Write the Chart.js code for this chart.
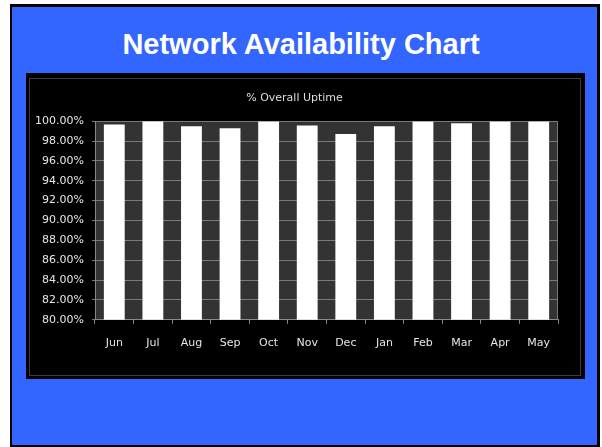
<!DOCTYPE html>
<html>
<head>
<meta charset="utf-8">
<script src="https://cdn.jsdelivr.net/npm/chart.js@4/dist/chart.umd.min.js"></script>
<style>
  html, body { margin:0; padding:0; background:#ffffff; width:602px; height:447px; overflow:hidden; }
  #frame { position:absolute; left:10px; top:4px; width:585px; height:438px; border:3px solid #000; border-left-width:2px; border-bottom-width:2px; background:#3366ff; }
  #title { position:absolute; left:0; top:28px; width:602px; text-align:center; color:#fff; font-family:"Liberation Sans", Arial, sans-serif; font-weight:bold; font-size:29px; line-height:32px; }
  #box { position:absolute; left:26px; top:73px; width:559px; height:306px; background:#000; }
  #inner { position:absolute; left:3px; top:5px; right:4px; bottom:3px; border:1px solid #3c3c3c; }
  #c { position:absolute; left:0; top:0; }
</style>
</head>
<body>
<div id="frame"></div>
<div id="title">Network Availability Chart</div>
<div id="box"><div id="inner"></div><canvas id="c" width="559" height="306"></canvas></div>
<script>
const chartTitle = "% Overall Uptime";
const months = ["Jun","Jul","Aug","Sep","Oct","Nov","Dec","Jan","Feb","Mar","Apr","May"];
const uptime = [99.67, 100.0, 99.5, 99.3, 99.97, 99.57, 98.7, 99.5, 99.97, 99.8, 99.97, 99.97];
const yMin = 80, yMax = 100, yStep = 2;

const plotBg = {
  id: 'plotBg',
  beforeDraw(chart) {
    const {ctx, chartArea:a} = chart;
    ctx.save();
    ctx.fillStyle = '#333333';
    ctx.fillRect(a.left, a.top, a.right - a.left, a.bottom - a.top);
    ctx.restore();
  },
  afterDraw(chart) {
    const {ctx, chartArea:a} = chart;
    ctx.save();
    ctx.strokeStyle = '#7a7a7a';
    ctx.lineWidth = 1;
    ctx.beginPath();
    ctx.moveTo(Math.round(a.right) - 0.5, a.top);
    ctx.lineTo(Math.round(a.right) - 0.5, a.bottom);
    ctx.stroke();
    ctx.restore();
  }
};

new Chart(document.getElementById('c'), {
  type: 'bar',
  data: {
    labels: months,
    datasets: [{
      data: uptime,
      backgroundColor: '#ffffff',
      borderWidth: 0,
      barPercentage: 0.54,
      categoryPercentage: 1.0
    }]
  },
  options: {
    responsive: false,
    animation: false,
    devicePixelRatio: 1,
    layout: { padding: { left: 5, right: 27, top: 0, bottom: 16 } },
    plugins: {
      legend: { display: false },
      tooltip: { enabled: false },
      title: {
        display: true,
        text: chartTitle,
        color: '#dddddd',
        font: { family: '"DejaVu Sans", sans-serif', size: 11, weight: 'normal' },
        padding: { top: 19, bottom: 16 }
      }
    },
    scales: {
      x: {
        grid: { display: true, drawOnChartArea: false, drawTicks: true, tickLength: 4, color: '#8a8a8a', offset: true },
        border: { display: true, color: '#8a8a8a' },
        ticks: { color: '#e6e6e6', font: { family: '"DejaVu Sans", sans-serif', size: 11 }, padding: 13 }
      },
      y: {
        min: yMin, max: yMax,
        afterFit(s) { s.width = 64; },
        grid: { color: '#7a7a7a', tickLength: 3, lineWidth: 1 },
        border: { display: true, color: '#8a8a8a' },
        ticks: {
          stepSize: yStep,
          color: '#e6e6e6',
          font: { family: '"DejaVu Sans", sans-serif', size: 11 },
          padding: 8,
          callback: v => v.toFixed(2) + '%'
        }
      }
    }
  },
  plugins: [plotBg]
});
</script>
</body>
</html>
